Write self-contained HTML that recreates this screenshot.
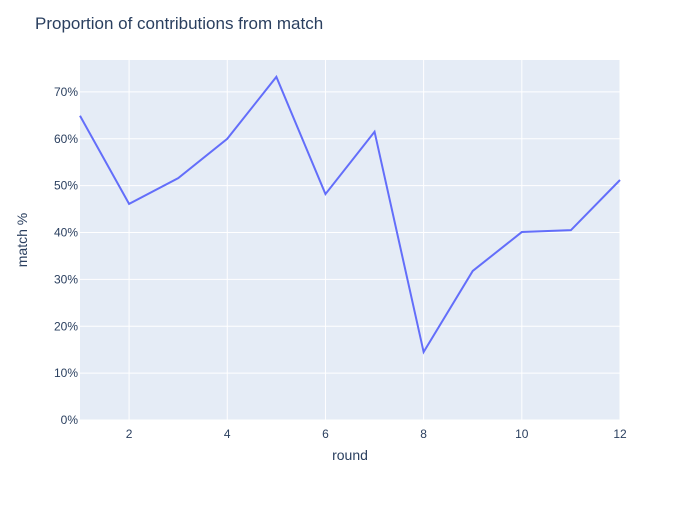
<!DOCTYPE html>
<html><head><meta charset="utf-8"><style>
body{margin:0;background:#fff;font-family:"Liberation Sans",sans-serif}
</style></head><body>
<svg id="chart" width="700" height="500">
<rect width="700" height="500" fill="#fff"/>
<text x="35" y="29" font-size="17" fill="#2a3f5f">Proportion of contributions from match</text>
<rect x="80" y="60" width="540" height="360" fill="#e5ecf6"/>
<g id="grid"></g>
<g id="ticks"></g>
<path id="line" fill="none" stroke="#636efa" stroke-width="2"/>
<text x="350" y="460" text-anchor="middle" font-size="14" fill="#2a3f5f">round</text>
<text x="27" y="240" text-anchor="middle" font-size="14" fill="#2a3f5f" transform="rotate(-90 27 240)">match %</text>
</svg>
<script>
const rounds=[1,2,3,4,5,6,7,8,9,10,11,12];
const matchPct=[64.9,46.1,51.6,60.0,73.2,48.2,61.5,14.5,31.8,40.1,40.5,51.2];
const xTicks=[2,4,6,8,10,12];
const yTicks=[0,10,20,30,40,50,60,70];
const X0=80,X1=620,Y0=420,Y1=60,xMin=1,xMax=12,yMin=0,yMax=76.8;
const xs=v=>X0+(v-xMin)/(xMax-xMin)*(X1-X0);
const ys=v=>Y0-(v-yMin)/(yMax-yMin)*(Y0-Y1);
const NS="http://www.w3.org/2000/svg";
const grid=document.getElementById('grid'),ticks=document.getElementById('ticks');
function mk(tag,attrs,parent,text){const e=document.createElementNS(NS,tag);for(const k in attrs)e.setAttribute(k,attrs[k]);if(text!==undefined)e.textContent=text;parent.appendChild(e);return e;}
xTicks.forEach(t=>{
 const l=mk('line',{x1:xs(t),x2:xs(t),y1:Y1,y2:Y0,stroke:'#fff','stroke-width':1},grid);
 
 
 const tx=mk('text',{x:xs(t),y:438,'text-anchor':'middle','font-size':12,fill:'#2a3f5f'},ticks,String(t));
 
 
});
yTicks.forEach(t=>{
 const l=mk('line',{x1:X0,x2:X1,y1:ys(t),y2:ys(t),stroke:'#fff','stroke-width':1},grid);
 
 
 const tx=mk('text',{x:78,y:ys(t)+4,'text-anchor':'end','font-size':12,fill:'#2a3f5f'},ticks,t+'%');
 
 
});
document.getElementById('line').setAttribute('d',rounds.map((r,i)=>(i?'L':'M')+xs(r)+','+ys(matchPct[i])).join(''));
</script>
</body></html>
